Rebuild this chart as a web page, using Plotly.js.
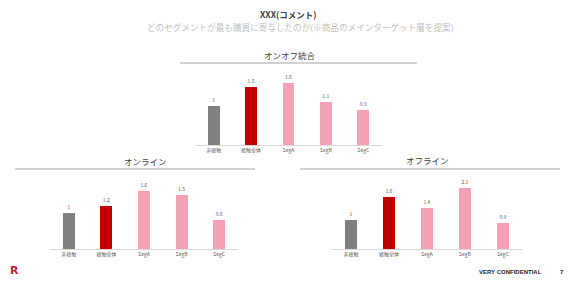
<!DOCTYPE html>
<html><head><meta charset="utf-8">
<script src="https://cdn.plot.ly/plotly-3.0.1.min.js"></script>
<style>html,body{margin:0;padding:0;background:#fff;}#c{width:576px;height:286px;}</style>
</head><body><div id="c"></div>
<script>
const categories = ["非接触", "接触全体", "SegA", "SegB", "SegC"];
const valuesTotal = [1, 1.5, 1.6, 1.1, 0.9];
const valuesOnline = [1, 1.2, 1.6, 1.5, 0.8];
const valuesOffline = [1, 1.8, 1.4, 2.1, 0.9];
const panelTitles = ["オンオフ統合", "オンライン", "オフライン"];
const barColors = ["#808080", "#c00000", "#f4a0b5", "#f4a0b5", "#f4a0b5"];

const W = 576, H = 286;
const px = x => x / W, py = y => 1 - y / H;
const font = "Noto Sans CJK JP, Noto Sans, sans-serif";

function bar(vals, xa, ya) {
  return {type: "bar", x: categories, y: vals, xaxis: xa, yaxis: ya,
    marker: {color: barColors}, width: 0.32,
    text: vals.map(String), textposition: "outside", cliponaxis: false,
    textfont: {size: 5, color: "#595959", family: font},
    hoverinfo: "skip"};
}
const data = [bar(valuesTotal, "x", "y"), bar(valuesOnline, "x2", "y2"), bar(valuesOffline, "x3", "y3")];

function xax(l, r) {
  return {domain: [px(l), px(r)], type: "category", showgrid: false, zeroline: false,
    showline: true, linecolor: "#d9d9d9", linewidth: 1, ticks: "", fixedrange: true, tickangle: 0,
    tickfont: {size: 5, color: "#595959", family: font}, range: [-0.5, 4.5]};
}
function yax(base, top, unit, anchor) {
  return {domain: [py(base), py(top)], range: [0, (base - top) / unit], visible: false,
    showgrid: false, zeroline: false, anchor: anchor, fixedrange: true};
}
function ann(text, x, y, size, color, fam) {
  return {text: text, x: px(x), y: py(y), xref: "paper", yref: "paper", showarrow: false,
    xanchor: "center", yanchor: "middle", font: {size: size, color: color, family: fam || font}};
}
const layout = {
  width: W, height: H, margin: {l: 0, r: 0, t: 0, b: 0},
  paper_bgcolor: "#fff", plot_bgcolor: "rgba(0,0,0,0)", showlegend: false, bargap: 0,
  xaxis: Object.assign(xax(195, 382), {anchor: "y"}),
  yaxis: yax(145, 70, 39, "x"),
  xaxis2: Object.assign(xax(50, 238), {anchor: "y2"}),
  yaxis2: yax(249, 180, 36, "x2"),
  xaxis3: Object.assign(xax(332, 522), {anchor: "y3"}),
  yaxis3: yax(249, 180, 29, "x3"),
  shapes: [
    {type: "line", xref: "paper", yref: "paper", x0: px(180), x1: px(417), y0: py(63), y1: py(63), line: {color: "#a6a6a6", width: 1.2}},
    {type: "line", xref: "paper", yref: "paper", x0: px(15), x1: px(255), y0: py(169), y1: py(169), line: {color: "#a6a6a6", width: 1.2}},
    {type: "line", xref: "paper", yref: "paper", x0: px(300), x1: px(560), y0: py(169), y1: py(169), line: {color: "#a6a6a6", width: 1.2}}
  ],
  annotations: [
    ann("<b>XXX(コメント)</b>", 288, 14, 8.5, "#404040"),
    ann("どのセグメントが最も購買に寄与したのか(※商品のメインターゲット層を提案)", 300, 27.5, 8.6, "#bfbfbf"),
    ann(panelTitles[0], 290, 55, 8.5, "#404040"),
    ann(panelTitles[1], 145, 161, 8.5, "#404040"),
    ann(panelTitles[2], 427, 160, 8.5, "#404040"),
    ann("<b>R</b>", 14, 270, 11, "#bf1e2e", "DejaVu Sans, sans-serif"),
    ann("<b>VERY CONFIDENTIAL</b>", 510, 272, 6, "#262626", "Liberation Sans, sans-serif"),
    ann("<b>7</b>", 562, 272, 6, "#262626", "Liberation Sans, sans-serif")
  ]
};
Plotly.newPlot("c", data, layout, {displayModeBar: false, staticPlot: true});
</script></body></html>
